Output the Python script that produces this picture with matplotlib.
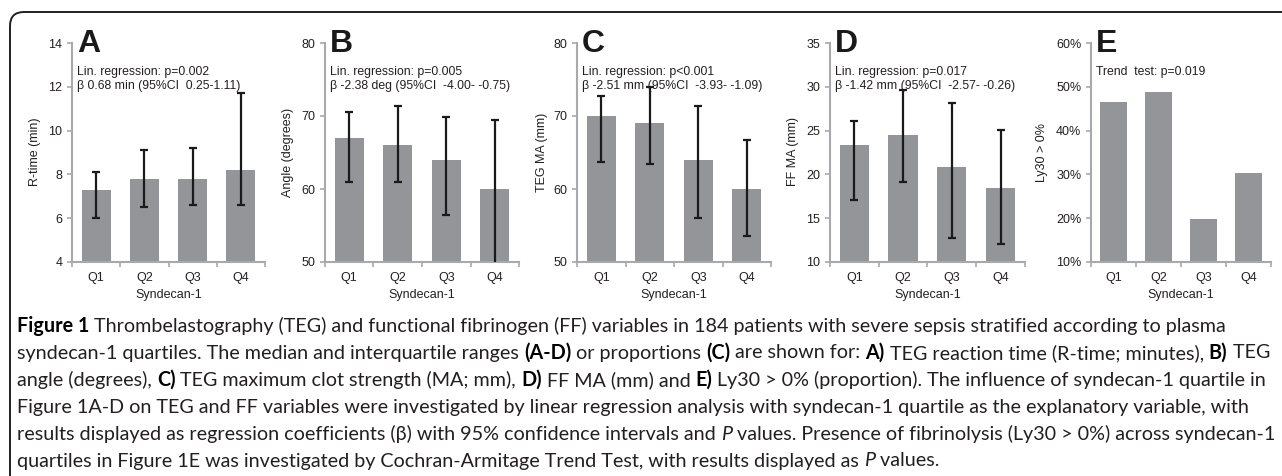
import matplotlib
matplotlib.use("Agg")
import matplotlib.pyplot as plt
import matplotlib.patches as mpatches
from matplotlib.transforms import IdentityTransform
from matplotlib.ticker import PercentFormatter
import numpy as np

plt.rcParams["font.family"] = ["Liberation Sans", "DejaVu Sans"]

W, H = 1282, 476

quartiles = ["Q1", "Q2", "Q3", "Q4"]

rtime = [7.3, 7.8, 7.8, 8.2]
rtime_lo = [6.0, 6.5, 6.6, 6.6]
rtime_hi = [8.1, 9.1, 9.2, 11.7]

angle = [67.0, 66.0, 64.0, 60.0]
angle_lo = [61.0, 61.0, 56.5, 49.0]
angle_hi = [70.6, 71.4, 69.9, 69.4]

teg_ma = [70.0, 69.0, 64.0, 60.0]
teg_ma_lo = [63.7, 63.4, 56.0, 53.6]
teg_ma_hi = [72.7, 74.0, 71.4, 66.7]

ff_ma = [23.4, 24.5, 20.8, 18.4]
ff_ma_lo = [17.1, 19.1, 12.7, 12.0]
ff_ma_hi = [26.1, 29.6, 28.1, 25.1]

ly30 = [46.5, 48.9, 19.9, 30.3]

panels = [
    dict(letter="A", vals=rtime, lo=rtime_lo, hi=rtime_hi, ylim=(4, 14), step=2,
         ylabel="R-time (min)", left=72, right=265, ylab_off=37,
         note="Lin. regression: p=0.002\nβ 0.68 min (95%CI  0.25-1.11)"),
    dict(letter="B", vals=angle, lo=angle_lo, hi=angle_hi, ylim=(50, 80), step=10,
         ylabel="Angle (degrees)", left=325, right=519, ylab_off=37,
         note="Lin. regression: p=0.005\nβ -2.38 deg (95%CI  -4.00- -0.75)"),
    dict(letter="C", vals=teg_ma, lo=teg_ma_lo, hi=teg_ma_hi, ylim=(50, 80), step=10,
         ylabel="TEG MA (mm)", left=577, right=771, ylab_off=35,
         note="Lin. regression: p<0.001\nβ -2.51 mm (95%CI  -3.93- -1.09)"),
    dict(letter="D", vals=ff_ma, lo=ff_ma_lo, hi=ff_ma_hi, ylim=(10, 35), step=5,
         ylabel="FF MA (mm)", left=830, right=1025, ylab_off=37,
         note="Lin. regression: p=0.017\nβ -1.42 mm (95%CI  -2.57- -0.26)"),
    dict(letter="E", vals=ly30, lo=None, hi=None, ylim=(10, 60), step=10,
         ylabel="Ly30 > 0%", left=1091, right=1271, ylab_off=49,
         note="Trend  test: p=0.019"),
]

grey_axis = "#a7a9ac"
bar_col = "#939598"
txt_col = "#231f20"

fig = plt.figure(figsize=(W / 100, H / 100), dpi=100)

top_px, bot_px = 43, 262
for p in panels:
    ax = fig.add_axes([p["left"] / W, 1 - bot_px / H,
                       (p["right"] - p["left"]) / W, (bot_px - top_px) / H])
    x = np.arange(len(quartiles))
    vals = np.array(p["vals"])
    ax.bar(x, vals - p["ylim"][0], bottom=p["ylim"][0], width=0.6, color=bar_col, zorder=2)
    if p["lo"] is not None:
        lo = np.array(p["lo"])
        hi = np.array(p["hi"])
        ax.errorbar(x, vals, yerr=[vals - lo, hi - vals], fmt="none", ecolor="#1a1a1a",
                    elinewidth=1.6, capsize=2.6, capthick=1.6, zorder=3)
    ax.set_xlim(-0.5, 3.5)
    ax.set_ylim(*p["ylim"])
    ax.set_yticks(np.arange(p["ylim"][0], p["ylim"][1] + 0.1, p["step"]))
    if p["letter"] == "E":
        ax.yaxis.set_major_formatter(PercentFormatter(decimals=0))
    ax.set_xticks(np.arange(-0.5, 4, 1))
    ax.set_xticklabels([])
    ax.set_xticks(x, minor=True)
    ax.set_xticklabels(quartiles, minor=True)
    ax.tick_params(axis="x", which="minor", length=0, pad=7)
    ax.tick_params(axis="both", which="major", length=3.5, width=1.2, color=grey_axis)
    ax.tick_params(axis="both", which="both", labelsize=9, labelcolor=txt_col)
    for s in ["top", "right"]:
        ax.spines[s].set_visible(False)
    for s in ["left", "bottom"]:
        ax.spines[s].set_color(grey_axis)
        ax.spines[s].set_linewidth(1.5)
    ax.set_facecolor("none")

    xc = (p["left"] + p["right"]) / 2
    fig.text(xc / W, 1 - 295 / H, "Syndecan-1", ha="center", va="center",
             fontsize=9, color=txt_col)
    fig.text((p["left"] - p["ylab_off"]) / W, 1 - 152 / H, p["ylabel"], rotation=90,
             ha="center", va="center", fontsize=9, color=txt_col)
    fig.text((p["left"] + 5) / W, 1 - 52 / H, p["letter"], fontsize=23, fontweight="bold",
             color="#1a1a1a", va="baseline")
    fig.text((p["left"] + 5) / W, 1 - 66 / H, p["note"], fontsize=8.8,
             color=txt_col, va="top", linespacing=1.2)

# frame around the figure
frame = mpatches.FancyBboxPatch((10, -30), 1400, 464 + 30, boxstyle="round,pad=0,rounding_size=14",
                                transform=IdentityTransform(), fill=False,
                                edgecolor="#231f20", linewidth=1.4)
fig.patches.append(frame)

# caption with mixed bold / italic parts
cap_font = "Lato"
cap_size = 14.2
caption = [
    [("Figure 1", "b"), (" Thrombelastography (TEG) and functional fibrinogen (FF) variables in 184 patients with severe sepsis stratified according to plasma", "n")],
    [("syndecan-1 quartiles. The median and interquartile ranges ", "n"), ("(A-D)", "b"), (" or proportions ", "n"), ("(C)", "b"),
     (" are shown for: ", "n"), ("A)", "b"), (" TEG reaction time (R-time; minutes), ", "n"), ("B)", "b"), (" TEG", "n")],
    [("angle (degrees), ", "n"), ("C)", "b"), (" TEG maximum clot strength (MA; mm), ", "n"), ("D)", "b"), (" FF MA (mm) and ", "n"),
     ("E)", "b"), (" Ly30 > 0% (proportion). The influence of syndecan-1 quartile in", "n")],
    [("Figure 1A-D on TEG and FF variables were investigated by linear regression analysis with syndecan-1 quartile as the explanatory variable, with", "n")],
    [("results displayed as regression coefficients (β) with 95% confidence intervals and ", "n"), ("P", "i"),
     (" values. Presence of fibrinolysis (Ly30 > 0%) across syndecan-1", "n")],
    [("quartiles in Figure 1E was investigated by Cochran-Armitage Trend Test, with results displayed as ", "n"), ("P", "i"), (" values.", "n")],
]

renderer = fig.canvas.get_renderer()


def width_px(s, kw):
    t1 = fig.text(0, 0, s + "|", **kw)
    t2 = fig.text(0, 0, "|", **kw)
    w = t1.get_window_extent(renderer).width - t2.get_window_extent(renderer).width
    t1.remove()
    t2.remove()
    return w


y0 = 326
for i, line in enumerate(caption):
    xpos = 17
    ypos = y0 + i * 27
    for s, style in line:
        kw = dict(fontsize=cap_size, family=cap_font, va="center",
                  color="#000000" if style == "b" else "#231f20")
        if style == "b":
            kw["fontweight"] = "bold"
        if style == "i":
            kw["fontstyle"] = "italic"
        fig.text(xpos / W, 1 - ypos / H, s, **kw)
        xpos += width_px(s, kw)

fig.savefig("out.png", dpi=100)
